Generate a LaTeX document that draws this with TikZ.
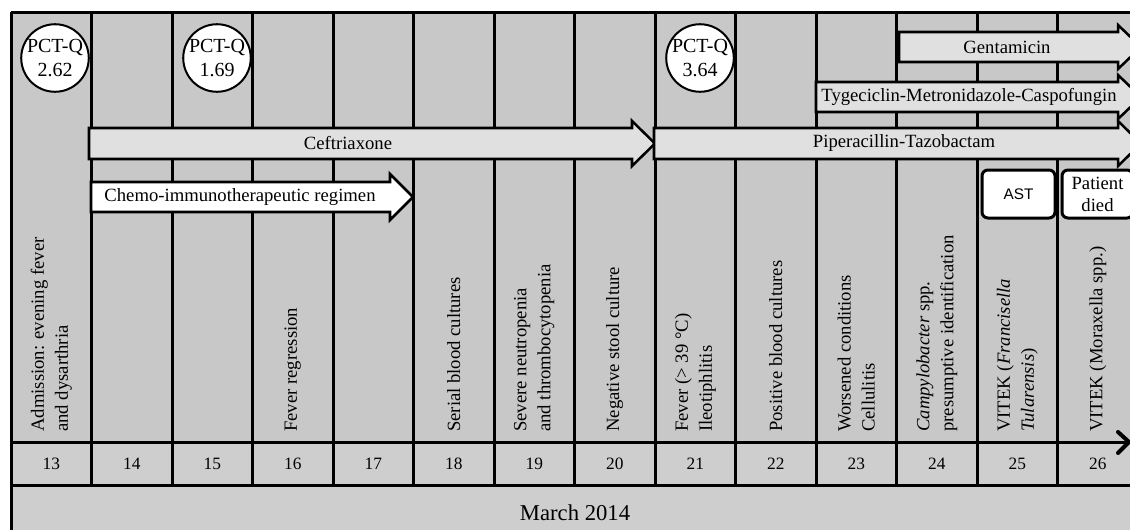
\documentclass[tikz,border=0pt]{standalone}
\usepackage{fontspec}
\setmainfont{Liberation Serif}
\newfontfamily\sansf{Liberation Sans}
\usetikzlibrary{arrows.meta}
\definecolor{bggray}{RGB}{200,200,200}
\definecolor{daygray}{RGB}{206,206,206}
\definecolor{arrgray}{RGB}{224,224,224}
\begin{document}
\begin{tikzpicture}[x=0.75pt,y=-0.75pt,
  gridline/.style={line width=2.25pt},
  fatarrow/.style={draw, line width=1.9pt, fill=arrgray, line join=miter},
  whitearrow/.style={fatarrow, fill=white},
  arrlabel/.style={inner sep=0pt, font=\fontsize{14}{16}\selectfont},
  event/.style={rotate=90, anchor=west, align=left, inner sep=0pt, font=\fontsize{14}{18}\selectfont},
  daynum/.style={inner sep=0pt, font=\fontsize{13}{15}\selectfont},
  pct/.style={circle, draw, line width=1.5pt, fill=white, minimum size=49.5pt, inner sep=0pt, align=center, font=\fontsize{15}{18.5}\selectfont},
  tag/.style={draw, line width=2.25pt, rounded corners=4.5pt, fill=white, minimum height=36pt, inner sep=0pt, align=center}]
\useasboundingbox (0,0) rectangle (1130,529);
\clip (0,0) rectangle (1130,529);
% backgrounds
\fill[bggray] (11,12) rectangle (1138,442);
\fill[daygray] (11,442) rectangle (1138,560);
% grid
\foreach \i in {0,...,14} {
  \draw[gridline] ({11+80.5*\i},12) -- ({11+80.5*\i},485);
}
\draw[gridline] (11,12) -- (1138,12);
\draw[gridline] (11,485) -- (1138,485);
\draw[gridline] (11,485) -- (11,560);
% timeline arrow
\coordinate (tl0) at (11,442);
\coordinate (tl1) at (1129,442);
\draw[gridline] (tl0) -- (tl1);
\draw[line width=3pt, line cap=round, line join=round] (1118,432) -- (tl1) -- (1118,453);
% drug arrows
\draw[fatarrow] (89,128) -- (632,128) -- (632,121) -- (655,143.5) -- (632,166) -- (632,159) -- (89,159) -- cycle;
\node[arrlabel] (ceft) at (348,143.5) {Ceftriaxone};
\draw[whitearrow] (91,182) -- (390,182) -- (390,174) -- (413,197) -- (390,220) -- (390,212) -- (91,212) -- cycle;
\node[arrlabel] (chemo) at (240,197) {Chemo-immunotherapeutic regimen};
\draw[fatarrow] (654,128) -- (1118,128) -- (1118,121) -- (1141,143.5) -- (1118,166) -- (1118,159) -- (654,159) -- cycle;
\node[arrlabel] (pip) at (904,143.5) {Piperacillin-Tazobactam};
\draw[fatarrow] (816,82) -- (1118,82) -- (1118,75) -- (1141,97) -- (1118,119) -- (1118,112) -- (816,112) -- cycle;
\node[arrlabel] (tyg) at (969,97) {Tygeciclin-Metronidazole-Caspofungin};
\draw[fatarrow] (899,32) -- (1118,32) -- (1118,25) -- (1141,47) -- (1118,69) -- (1118,62) -- (899,62) -- cycle;
\node[arrlabel] (gent) at (1007,47) {Gentamicin};
% PCT-Q circles
\node[pct] (p1) at (55,58) {PCT-Q\\2.62};
\node[pct] (p2) at (217,58) {PCT-Q\\1.69};
\node[pct] (p3) at (700,58) {PCT-Q\\3.64};
% tags
\node[tag, minimum width=54.75pt, font=\sansf\fontsize{11.5}{13}\selectfont] (ast) at (1018.5,194) {AST};
\node[tag, minimum width=53.25pt, font=\fontsize{14}{16.5}\selectfont] (died) at (1097.5,194) {Patient\\died};
% events
\node[event] (e13) at (51.25,432) {Admission: evening fever\\and dysarthria};
\node[event] (e16) at (292.75,432) {Fever regression};
\node[event] (e18) at (453.75,432) {Serial blood cultures};
\node[event] (e19) at (534.25,432) {Severe neutropenia\\and thrombocytopenia};
\node[event] (e20) at (614.75,432) {Negative stool culture};
\node[event] (e21) at (695.25,432) {Fever (> 39 °C)\\Ileotiphlitis};
\node[event] (e22) at (775.75,432) {Positive blood cultures};
\node[event] (e23) at (856.25,432) {Worsened conditions\\Cellulitis};
\node[event] (e24) at (936.75,432) {\textit{Campylobacter} spp.\\presumptive identification};
\node[event] (e25) at (1017.25,432) {VITEK (\textit{Francisella}\\\textit{Tularensis})};
\node[event] (e26) at (1097.75,432) {VITEK (Moraxella spp.)};
% day numbers
\foreach \d in {13,...,26} {
  \node[daynum] (d\d) at ({51.25+80.5*(\d-13)},464) {\d};
}
\node[inner sep=0pt, font=\fontsize{17}{20}\selectfont] (month) at (575,513) {March 2014};
\end{tikzpicture}
\end{document}
